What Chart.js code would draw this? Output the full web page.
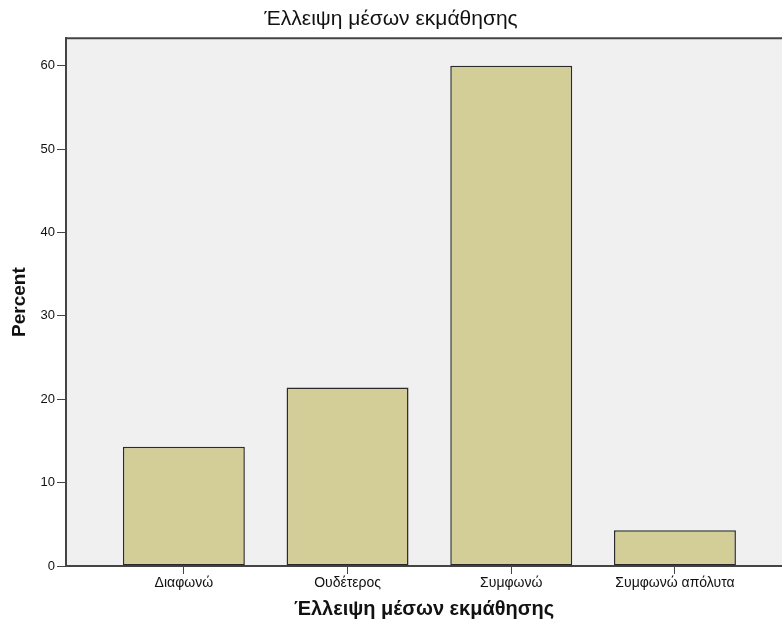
<!DOCTYPE html>
<html>
<head>
<meta charset="utf-8">
<script src="https://cdn.jsdelivr.net/npm/chart.js@4/dist/chart.umd.min.js"></script>
<style>
  html, body { margin: 0; padding: 0; background: #fff; overflow: hidden; }
</style>
</head>
<body>
<canvas id="chart" width="782" height="626"></canvas>
<script>
/* ── Data ─────────────────────────────────────────────── */
const categories = ['Διαφωνώ', 'Ουδέτερος', 'Συμφωνώ', 'Συμφωνώ απόλυτα'];
const percents   = [14.3, 21.4, 60.0, 4.3];
const yTicks     = [0, 10, 20, 30, 40, 50, 60];
const chartTitle = 'Έλλειψη μέσων εκμάθησης';
const xTitle     = 'Έλλειψη μέσων εκμάθησης';
const yTitle     = 'Percent';

const FONT = "'Liberation Sans', Arial, sans-serif";
const INK  = '#111';
const AXIS = '#444';

// plot background + top frame line
const plotFrame = {
  id: 'plotFrame',
  beforeDraw(chart) {
    const { ctx, chartArea: a } = chart;
    ctx.save();
    ctx.fillStyle = '#f0f0f0';
    ctx.fillRect(a.left, a.top, a.right - a.left, a.bottom - a.top);
    ctx.strokeStyle = AXIS;
    ctx.lineWidth = 2;
    ctx.beginPath();
    ctx.moveTo(a.left - 1, a.top);
    ctx.lineTo(a.right, a.top);
    ctx.stroke();
    ctx.restore();
  }
};

new Chart(document.getElementById('chart'), {
  type: 'bar',
  data: {
    datasets: [{
      data: percents.map((v, i) => ({ x: i, y: v })),
      backgroundColor: '#d3ce97',
      borderColor: '#2b2b2b',
      borderWidth: 1.5,
      borderSkipped: false,
      categoryPercentage: 1,
      barPercentage: 0.745,
    }],
  },
  options: {
    responsive: false,
    animation: false,
    layout: { padding: 0 },
    plugins: {
      legend: { display: false },
      tooltip: { enabled: false },
      title: {
        display: true,
        text: chartTitle,
        color: INK,
        font: { family: FONT, size: 21, weight: 'normal' },
        padding: { top: 7, bottom: 6 },
      },
    },
    scales: {
      x: {
        type: 'linear',
        offset: false,
        min: -0.72,
        max: 3.654,
        afterBuildTicks: s => { s.ticks = categories.map((_, i) => ({ value: i })); },
        afterFit: s => { s.height = 60; },
        ticks: {
          callback: v => categories[v],
          color: INK,
          font: { family: FONT, size: 14 },
          padding: 1,
          maxRotation: 0,
          autoSkip: false,
        },
        grid: { offset: false, drawOnChartArea: false, drawTicks: true, tickLength: 8, tickColor: AXIS },
        border: { color: AXIS, width: 2 },
        title: {
          display: true,
          text: xTitle,
          color: INK,
          font: { family: FONT, size: 20, weight: 'bold' },
          padding: { top: 0, bottom: 5 },
        },
      },
      y: {
        min: 0,
        max: 63.3,
        afterBuildTicks: s => { s.ticks = yTicks.map(v => ({ value: v })); },
        afterFit: s => { s.width = 66; },
        ticks: {
          color: INK,
          font: { family: FONT, size: 13 },
          padding: 2,
        },
        grid: { drawOnChartArea: false, drawTicks: true, tickLength: 9, tickColor: AXIS },
        border: { color: AXIS, width: 2 },
        title: {
          display: true,
          text: yTitle,
          color: INK,
          font: { family: FONT, size: 19, weight: 'bold' },
          padding: { top: 8, bottom: 0 },
        },
      },
    },
  },
  plugins: [plotFrame],
});
</script>
</body>
</html>
